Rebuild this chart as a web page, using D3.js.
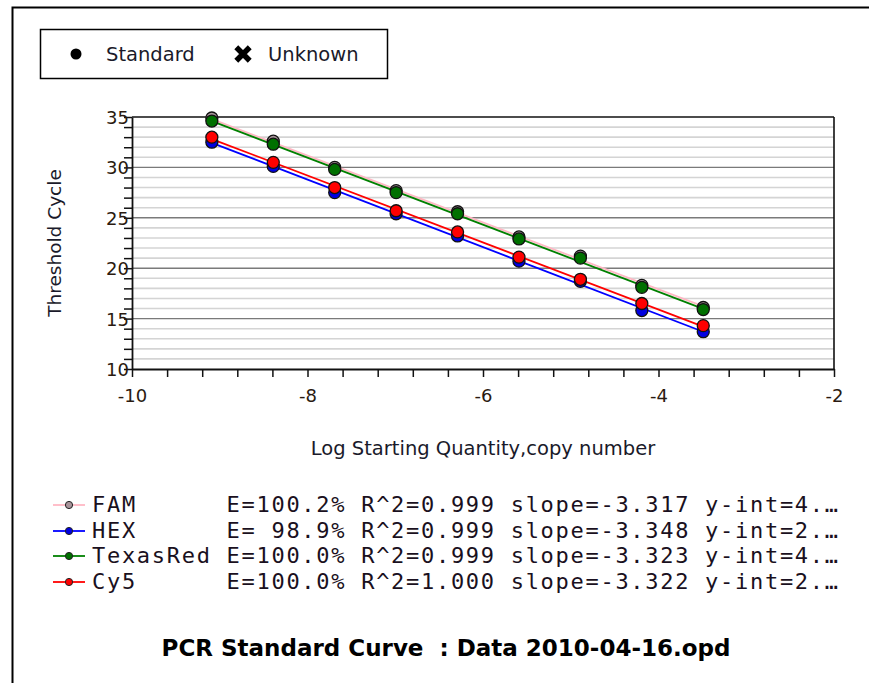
<!DOCTYPE html>
<html>
<head>
<meta charset="utf-8">
<script src="https://cdn.jsdelivr.net/npm/d3@7"></script>
<style>
  html, body { margin: 0; padding: 0; background: #fff; }
  svg { display: block; }
</style>
</head>
<body>
<svg id="chart" width="869" height="683"></svg>
<script>
// Log10 starting quantities (5-fold dilution series)
const logQty = [-9.09, -8.39, -7.69, -6.99, -6.29, -5.59, -4.89, -4.19, -3.49];

// Threshold cycles per dye
const famCt      = [34.9, 32.6, 30.0, 27.7, 25.6, 23.1, 21.2, 18.3, 16.1];
const hexCt      = [32.5, 30.1, 27.5, 25.4, 23.2, 20.7, 18.7, 15.8, 13.7];
const texasRedCt = [34.6, 32.3, 29.8, 27.5, 25.4, 22.9, 21.0, 18.1, 15.9];
const cy5Ct      = [33.0, 30.5, 28.0, 25.7, 23.6, 21.1, 18.9, 16.5, 14.3];

// Fit statistics shown in the legend
const dyeNames   = ["FAM", "HEX", "TexasRed", "Cy5"];
const efficiency = ["100.2", " 98.9", "100.0", "100.0"];
const rSquared   = ["0.999", "0.999", "0.999", "1.000"];
const slopes     = [-3.317, -3.348, -3.323, -3.322];
const yIntLead   = ["4.", "2.", "4.", "2."];

const lineColors   = ["#ffb8c4", "#0000ff", "#008000", "#ff0000"];
const markerColors = ["#a8959b", "#0000e0", "#007000", "#ff0000"];

// Axis ticks
const xMajorTicks = [-10, -8, -6, -4, -2];
const yMajorTicks = [10, 15, 20, 25, 30, 35];

const ctSeries = [famCt, hexCt, texasRedCt, cy5Ct];

const svg = d3.select("#chart");
const uiFont = "'DejaVu Sans', Verdana, sans-serif";
const monoFont = "'DejaVu Sans Mono', 'Liberation Mono', monospace";
const textColor = "#1a1a2a";

// Outer frame (left and top edges)
svg.append("path")
  .attr("d", "M12.5,690 L12.5,7.5 L880,7.5")
  .attr("fill", "none").attr("stroke", "#000").attr("stroke-width", 2);

// Marker legend box
const lg = svg.append("g");
lg.append("rect").attr("x", 40.5).attr("y", 29.5).attr("width", 347).attr("height", 49)
  .attr("fill", "#fff").attr("stroke", "#000").attr("stroke-width", 1.5);
lg.append("circle").attr("cx", 76).attr("cy", 54).attr("r", 5.5).attr("fill", "#000");
lg.append("text").attr("x", 106).attr("y", 61).text("Standard")
  .attr("font-family", uiFont).attr("font-size", 19.5).attr("fill", textColor);
lg.append("path")
  .attr("d", d3.symbol(d3.symbolX, 120)())
  .attr("transform", "translate(243,54)")
  .attr("fill", "none").attr("stroke", "#000").attr("stroke-width", 5.5);
lg.append("text").attr("x", 268).attr("y", 61).text("Unknown")
  .attr("font-family", uiFont).attr("font-size", 19.5).attr("fill", textColor);

// Plot scales
const x = d3.scaleLinear().domain([-10, -2]).range([132, 834]);
const y = d3.scaleLinear().domain([10, 35]).range([369, 117]);

const plot = svg.append("g");

// Horizontal grid: light every cycle, darker every 5 cycles
const minorY = d3.range(11, 35, 1).filter(v => v % 5 !== 0);
plot.selectAll(".gminor").data(minorY).join("line")
  .attr("x1", x(-10)).attr("x2", x(-2))
  .attr("y1", d => y(d)).attr("y2", d => y(d))
  .attr("stroke", "#d4d4d4").attr("stroke-width", 1.6);
plot.selectAll(".gmajor").data([15, 20, 25, 30]).join("line")
  .attr("x1", x(-10)).attr("x2", x(-2))
  .attr("y1", d => y(d)).attr("y2", d => y(d))
  .attr("stroke", "#7a7a7a").attr("stroke-width", 1.4);

// Plot frame: top and right edges
plot.append("line").attr("x1", x(-10)).attr("x2", x(-2)).attr("y1", y(35)).attr("y2", y(35))
  .attr("stroke", "#111").attr("stroke-width", 1.6);
plot.append("line").attr("x1", x(-2)).attr("x2", x(-2)).attr("y1", y(35)).attr("y2", y(10))
  .attr("stroke", "#111").attr("stroke-width", 1.6);

// Y axis with a tick every cycle
const yAxis = d3.axisLeft(y)
  .tickValues(d3.range(10, 36, 1))
  .tickSize(8).tickSizeOuter(0)
  .tickFormat(d => yMajorTicks.includes(d) ? d : "");
const gy = svg.append("g").attr("transform", `translate(${x(-10)},0)`).call(yAxis);
gy.select(".domain").attr("stroke", "#111").attr("stroke-width", 1.8);
gy.selectAll(".tick line").attr("stroke", "#111").attr("stroke-width", 1.5);
gy.selectAll(".tick text").attr("font-family", uiFont).attr("font-size", 18)
  .attr("fill", "#2a1a10").attr("x", -3).attr("dy", "0.36em");

// X axis with ticks every 0.4 log units
const xAxis = d3.axisBottom(x)
  .tickValues(d3.range(0, 21).map(i => -10 + i * 0.4))
  .tickSize(8).tickSizeOuter(0)
  .tickFormat(d => {
    const r = Math.round(d * 10) / 10;
    return xMajorTicks.includes(r) ? d3.format("d")(r) : "";
  });
const gx = svg.append("g").attr("transform", `translate(0,${y(10)})`).call(xAxis);
gx.select(".domain").attr("stroke", "#111").attr("stroke-width", 1.8);
gx.selectAll(".tick line").attr("stroke", "#111").attr("stroke-width", 1.5);
gx.selectAll(".tick text").attr("font-family", uiFont).attr("font-size", 18)
  .attr("fill", "#2a1a10").attr("y", 20).text(function() { return this.textContent.replace("−", "-"); });

// Axis titles
svg.append("text").attr("transform", "translate(61,243) rotate(-90)")
  .attr("text-anchor", "middle").attr("font-family", uiFont).attr("font-size", 18.5)
  .attr("fill", textColor).text("Threshold Cycle");
svg.append("text").attr("x", 483).attr("y", 455)
  .attr("text-anchor", "middle").attr("font-family", uiFont).attr("font-size", 19.5)
  .attr("fill", textColor).text("Log Starting Quantity,copy number");

// Fitted standard curves: stated slope, intercept through the data centroid
const fitLines = ctSeries.map((ct, i) => {
  const mx = d3.mean(logQty), my = d3.mean(ct);
  const b = my - slopes[i] * mx;
  const x0 = d3.min(logQty), x1 = d3.max(logQty);
  return [[x0, slopes[i] * x0 + b], [x1, slopes[i] * x1 + b]];
});
const line = d3.line().x(d => x(d[0])).y(d => y(d[1]));
plot.selectAll(".fit").data(fitLines).join("path")
  .attr("d", line).attr("fill", "none")
  .attr("stroke", (d, i) => lineColors[i]).attr("stroke-width", 1.8);

// Standard points
ctSeries.forEach((ct, i) => {
  plot.selectAll(`.pt${i}`).data(ct).join("circle")
    .attr("cx", (d, j) => x(logQty[j])).attr("cy", d => y(d)).attr("r", 6)
    .attr("fill", markerColors[i]).attr("stroke", "#111").attr("stroke-width", 1.3);
});

// Series legend with fit statistics
const rowY = [505, 531, 556, 582];
const charW = 14.92;
dyeNames.forEach((name, i) => {
  const g = svg.append("g");
  g.append("line").attr("x1", 53).attr("x2", 85).attr("y1", rowY[i]).attr("y2", rowY[i])
    .attr("stroke", lineColors[i]).attr("stroke-width", 1.8);
  g.append("circle").attr("cx", 69).attr("cy", rowY[i]).attr("r", 3.6)
    .attr("fill", markerColors[i]).attr("stroke", "#222").attr("stroke-width", 1);
  const label = name.padEnd(9, " ") +
    `E=${efficiency[i]}% R^2=${rSquared[i]} slope=${slopes[i].toFixed(3)} y-int=${yIntLead[i]}\u2026`;
  g.append("text").attr("x", 92).attr("y", rowY[i] + 7)
    .attr("xml:space", "preserve").style("white-space", "pre")
    .attr("font-family", monoFont).attr("font-size", 22)
    .attr("textLength", label.length * charW).attr("lengthAdjust", "spacing")
    .attr("fill", "#1a1020").text(label);
});

// Chart title
svg.append("text").attr("x", 446).attr("y", 656).attr("text-anchor", "middle")
  .attr("font-family", uiFont).attr("font-weight", "bold").attr("font-size", 23)
  .style("white-space", "pre").attr("fill", "#000")
  .text("PCR Standard Curve  : Data 2010-04-16.opd");
</script>
</body>
</html>
